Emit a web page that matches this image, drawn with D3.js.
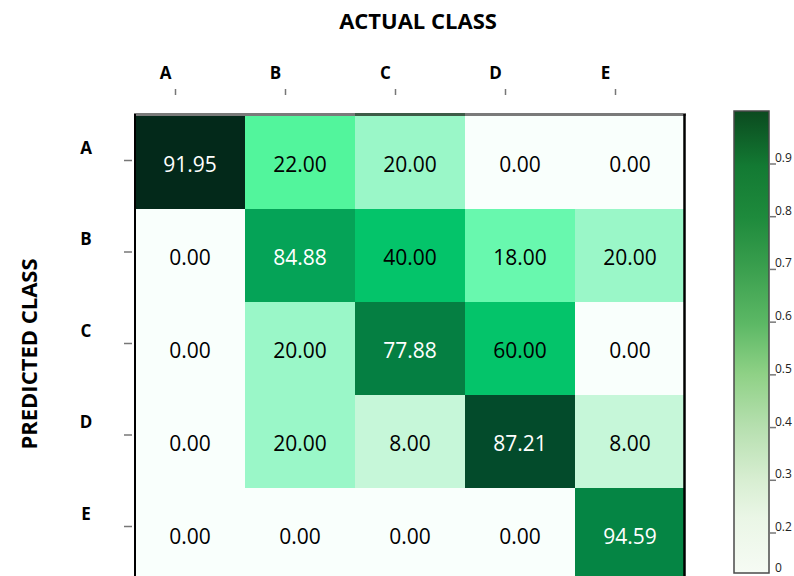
<!DOCTYPE html>
<html>
<head>
<meta charset="utf-8">
<script src="https://cdn.jsdelivr.net/npm/d3@7"></script>
<style>
  body { margin: 0; background: #fff; }
  svg { display: block; font-family: "Open Sans", sans-serif; }
  .axis path { display: none; }
  .axis line { stroke: #777; stroke-width: 1.5; }
  .axis text { font-family: "Open Sans", sans-serif; font-weight: bold; font-size: 17px; fill: #000; }
</style>
</head>
<body>
<div id="chart"></div>
<script>
// class names, shared by both axes
var classes = ["A", "B", "C", "D", "E"];

// percentages, rows = predicted class, columns = actual class
var valuesA = [91.95, 22.00, 20.00, 0.00, 0.00];
var valuesB = [0.00, 84.88, 40.00, 18.00, 20.00];
var valuesC = [0.00, 20.00, 77.88, 60.00, 0.00];
var valuesD = [0.00, 20.00, 8.00, 87.21, 8.00];
var valuesE = [0.00, 0.00, 0.00, 0.00, 94.59];

// shade level of each cell (0 = white, 1 = darkest)
var shadeA = [1.00, 0.35, 0.20, 0.00, 0.00];
var shadeB = [0.00, 0.60, 0.50, 0.30, 0.20];
var shadeC = [0.00, 0.20, 0.72, 0.50, 0.00];
var shadeD = [0.00, 0.20, 0.10, 0.90, 0.10];
var shadeE = [0.00, 0.00, 0.00, 0.00, 0.70];

// colour bar ticks
var barTicks = [0, 0.2, 0.3, 0.4, 0.5, 0.6, 0.7, 0.8, 0.9];
var barTickLabels = ["0", "0.2", "0.3", "0.4", "0.5", "0.6", "0.7", "0.8", "0.9"];

var svgWidth = 794;
var svgHeight = 576;

var svg = d3.select("#chart")
    .append("svg")
    .attr("width", svgWidth)
    .attr("height", svgHeight);

// build cell list
var rows = [valuesA, valuesB, valuesC, valuesD, valuesE];
var shades = [shadeA, shadeB, shadeC, shadeD, shadeE];
var cells = [];
rows.forEach(function(r, i) {
    r.forEach(function(v, j) {
        cells.push({pred: classes[i], actual: classes[j], value: v, shade: shades[i][j]});
    });
});

// grid scales
var x = d3.scaleBand().domain(classes).range([135, 685]);
var y = d3.scaleBand().domain(classes).range([116, 581]);

var color = d3.scaleLinear()
    .domain([0, 0.1, 0.2, 0.3, 0.35, 0.5, 0.6, 0.7, 0.9, 1.0])
    .range(["#f9fffc", "#c6f7d9", "#9af7c8", "#68f8ae", "#52f59c",
            "#04c46a", "#05a357", "#058544", "#034b2b", "#03291a"]);

var grid = svg.append("g");

grid.selectAll("rect")
    .data(cells)
    .enter().append("rect")
    .attr("x", d => x(d.actual))
    .attr("y", d => y(d.pred))
    .attr("width", x.bandwidth())
    .attr("height", y.bandwidth())
    .attr("fill", d => color(d.shade));

grid.selectAll("text")
    .data(cells)
    .enter().append("text")
    .attr("x", d => x(d.actual) + x.bandwidth() / 2)
    .attr("y", d => y(d.pred) + y.bandwidth() / 2 + 1)
    .attr("text-anchor", "middle")
    .attr("dominant-baseline", "central")
    .attr("font-size", "21px")
    .attr("fill", d => d.shade >= 0.6 ? "#fff" : "#000")
    .text(d => d.value.toFixed(2));

// frame: grey top edge, black sides
svg.append("line")
    .attr("x1", 134).attr("x2", 686)
    .attr("y1", 114.5).attr("y2", 114.5)
    .attr("stroke", "#7a7a7a")
    .attr("stroke-width", 3);
svg.append("line")
    .attr("x1", x("C")).attr("x2", x("C") + x.bandwidth())
    .attr("y1", 114.5).attr("y2", 114.5)
    .attr("stroke", "#3d5c47")
    .attr("stroke-width", 3);
svg.append("line")
    .attr("x1", 135).attr("x2", 135)
    .attr("y1", 114).attr("y2", 576)
    .attr("stroke", "#000")
    .attr("stroke-width", 2);
svg.append("line")
    .attr("x1", 684.5).attr("x2", 684.5)
    .attr("y1", 114).attr("y2", 576)
    .attr("stroke", "#000")
    .attr("stroke-width", 2.5);

// tick axes (ticks sit a little left / above the cell centres)
var xTick = d3.scalePoint().domain(classes).range([175, 615]);
var yTick = d3.scalePoint().domain(classes).range([160, 526]);

svg.append("g")
    .attr("class", "axis")
    .attr("transform", "translate(0, 95)")
    .call(d3.axisTop(xTick).tickSize(6).tickPadding(10))
    .selectAll("text")
    .attr("dx", -10);

var yAxis = svg.append("g")
    .attr("class", "axis")
    .attr("transform", "translate(132, 0)")
    .call(d3.axisLeft(yTick).tickSize(8).tickPadding(0));
yAxis.selectAll("text")
    .attr("x", -46)
    .attr("text-anchor", "middle")
    .attr("dy", "-7px");

// axis titles
svg.append("text")
    .attr("x", 418)
    .attr("y", 29)
    .attr("text-anchor", "middle")
    .attr("font-weight", "bold")
    .attr("font-size", "22px")
    .text("ACTUAL CLASS");

svg.append("text")
    .attr("transform", "translate(37, 354) rotate(-90)")
    .attr("text-anchor", "middle")
    .attr("font-weight", "bold")
    .attr("font-size", "22px")
    .text("PREDICTED CLASS");

// colour bar
var defs = svg.append("defs");
var grad = defs.append("linearGradient")
    .attr("id", "bar-grad")
    .attr("x1", 0).attr("x2", 0)
    .attr("y1", 1).attr("y2", 0);
var barStops = [
    [0.00, "#f6fbf4"], [0.12, "#eaf6e6"], [0.2, "#d8eed2"], [0.32, "#b5dfae"],
    [0.43, "#8fd186"], [0.54, "#5cb865"], [0.66, "#3a9f4e"], [0.77, "#1e8a3c"],
    [0.88, "#137a33"], [1.00, "#0b4a1f"]
];
grad.selectAll("stop")
    .data(barStops)
    .enter().append("stop")
    .attr("offset", d => d[0])
    .attr("stop-color", d => d[1]);

svg.append("rect")
    .attr("x", 734)
    .attr("y", 111)
    .attr("width", 35)
    .attr("height", 462)
    .attr("fill", "url(#bar-grad)")
    .attr("stroke", "#4a4a4a")
    .attr("stroke-width", 1.5);

var barScale = d3.scaleLinear()
    .domain([0, 0.2, 0.9])
    .range([566, 533, 164]);

var barAxis = svg.append("g")
    .attr("class", "bar-axis")
    .attr("transform", "translate(770, 0)");

barAxis.selectAll("line")
    .data(barTicks.filter(d => d > 0))
    .enter().append("line")
    .attr("x1", 0).attr("x2", 6)
    .attr("y1", d => barScale(d)).attr("y2", d => barScale(d))
    .attr("stroke", "#777")
    .attr("stroke-width", 1.5);

barAxis.selectAll("text")
    .data(barTicks)
    .enter().append("text")
    .attr("x", 5)
    .attr("y", d => d > 0 ? barScale(d) - 2 : barScale(d) + 6)
    .attr("font-size", "12px")
    .attr("fill", "#222")
    .text((d, i) => barTickLabels[i]);
</script>
</body>
</html>
